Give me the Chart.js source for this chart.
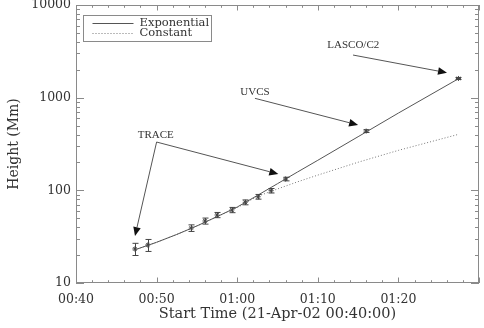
<!DOCTYPE html>
<html>
<head>
<meta charset="utf-8">
<script src="https://cdn.jsdelivr.net/npm/chart.js@4.4.0/dist/chart.umd.min.js"></script>
<style>
    html, body { margin: 0; padding: 0; background: #fff; }
</style>
</head>
<body>
<canvas id="heightChart" width="484" height="328"></canvas>
<script>
// --- data (time = minutes after 00:40, height in Mm) ---
const obsTime = [7.3, 8.9, 14.3, 16.0, 17.5, 19.35, 21.0, 22.6, 24.2, 26.0, 36.0, 47.45];
const obsHeight = [23.3, 25.7, 39.2, 46.7, 54.2, 61.4, 74.3, 85.3, 99.1, 132.5, 436, 1611];
const obsError = [3.5, 3.8, 3.2, 3.5, 3.5, 4, 4.5, 5, 5.5, 6, 15, 40];

const fitTime = [7.3, 10, 12.5, 15, 17.5, 20, 22.5, 25, 27.5, 30, 35, 40, 47.5];
const expHeight = [22.8, 27.5, 33.4, 41.3, 52, 66, 88, 118, 158, 211, 379, 682, 1610];
const constHeight = [22.8, 27.5, 33.4, 41.3, 52, 65, 86, 103.5, 123.6, 146, 201, 270, 403];

const xRange = [0, 50];
const xTickMinutes = [0, 10, 20, 30, 40];
const yRange = [10, 10000];
const yTickValues = [10, 100, 1000, 10000];

// callouts: text position and arrows, in data units
const callouts = [
    { text: 'TRACE', at: [9.9, 395], arrows: [[[10.0, 332], [7.32, 32.1]], [[10.0, 332], [25.1, 150]]] },
    { text: 'UVCS', at: [22.2, 1159], arrows: [[[22.2, 984], [35.0, 507]]] },
    { text: 'LASCO/C2', at: [34.4, 3700], arrows: [[[34.37, 2884], [46.03, 1858]]] }
];

const ink = '#333';
const lineInk = '#555';
const axisInk = '#8a8a8a';
const serif = 'DejaVu Serif';

const toPoints = (xs, ys) => xs.map((x, i) => ({ x: x, y: ys[i] }));
const pad2 = n => String(n).padStart(2, '0');
const clockLabel = min => {
    const t = 40 + min;
    return pad2(Math.floor(t / 60)) + ':' + pad2(t % 60);
};

// frame + inward ticks on all four sides
const frameTicks = {
    id: 'frameTicks',
    beforeDatasetsDraw(chart) {
        const { ctx, chartArea: a, scales: { x, y } } = chart;
        ctx.save();
        ctx.strokeStyle = axisInk;
        ctx.lineWidth = 1;
        ctx.strokeRect(a.left + 0.5, a.top + 0.5, a.right - a.left - 1, a.bottom - a.top - 1);
        ctx.beginPath();
        for (let m = xRange[0]; m <= xRange[1]; m += 2) {
            const px = Math.round(x.getPixelForValue(m)) + 0.5;
            const len = m % 10 === 0 ? 5.5 : 2.8;
            ctx.moveTo(px, a.bottom); ctx.lineTo(px, a.bottom - len);
            ctx.moveTo(px, a.top); ctx.lineTo(px, a.top + len);
        }
        for (let d = yRange[0]; d <= yRange[1]; d *= 10) {
            for (let k = 1; k <= 9; k++) {
                const v = d * k;
                if (v > yRange[1]) break;
                const py = Math.round(y.getPixelForValue(v)) + 0.5;
                const len = k === 1 ? 8 : 4;
                ctx.moveTo(a.left, py); ctx.lineTo(a.left + len, py);
                ctx.moveTo(a.right, py); ctx.lineTo(a.right - len, py);
            }
        }
        ctx.stroke();
        ctx.restore();
    }
};

// vertical error bars with caps
const errorBars = {
    id: 'errorBars',
    afterDatasetsDraw(chart) {
        const { ctx, scales: { x, y } } = chart;
        ctx.save();
        ctx.strokeStyle = '#444';
        ctx.lineWidth = 1;
        ctx.beginPath();
        obsTime.forEach((t, i) => {
            const px = Math.round(x.getPixelForValue(t)) + 0.5;
            const hi = y.getPixelForValue(obsHeight[i] + obsError[i]);
            const lo = y.getPixelForValue(obsHeight[i] - obsError[i]);
            ctx.moveTo(px, hi); ctx.lineTo(px, lo);
            ctx.moveTo(px - 3, hi); ctx.lineTo(px + 3, hi);
            ctx.moveTo(px - 3, lo); ctx.lineTo(px + 3, lo);
        });
        ctx.stroke();
        ctx.restore();
    }
};

// instrument labels with arrows
const calloutPlugin = {
    id: 'callouts',
    afterDatasetsDraw(chart) {
        const { ctx, scales: { x, y } } = chart;
        const P = p => [x.getPixelForValue(p[0]), y.getPixelForValue(p[1])];
        ctx.save();
        ctx.strokeStyle = lineInk;
        ctx.lineWidth = 1;
        ctx.font = '11px "Liberation Serif"';
        ctx.textAlign = 'center';
        ctx.textBaseline = 'middle';
        callouts.forEach(c => {
            const [tx, ty] = P(c.at);
            ctx.fillStyle = ink;
            ctx.fillText(c.text, tx, ty);
            c.arrows.forEach(([from, to]) => {
                const [x0, y0] = P(from);
                const [x1, y1] = P(to);
                const ang = Math.atan2(y1 - y0, x1 - x0);
                const L = 9, W = 3.8;
                const bx = x1 - L * Math.cos(ang), by = y1 - L * Math.sin(ang);
                ctx.beginPath();
                ctx.moveTo(x0, y0); ctx.lineTo(bx, by);
                ctx.stroke();
                ctx.beginPath();
                ctx.moveTo(x1, y1);
                ctx.lineTo(bx + W * Math.sin(ang), by - W * Math.cos(ang));
                ctx.lineTo(bx - W * Math.sin(ang), by + W * Math.cos(ang));
                ctx.closePath();
                ctx.fillStyle = '#111';
                ctx.fill();
            });
        });
        ctx.restore();
    }
};

// boxed legend in upper left
const boxLegend = {
    id: 'boxLegend',
    afterDraw(chart) {
        const { ctx, chartArea: a } = chart;
        const bx = a.left + 6.5, by = a.top + 10;
        ctx.save();
        ctx.strokeStyle = axisInk;
        ctx.lineWidth = 1;
        ctx.strokeRect(Math.round(bx) + 0.5, Math.round(by) + 0.5, 128, 26);
        chart.data.datasets.slice(0, 2).forEach((ds, i) => {
            const ly = Math.round(by + 7.5 + i * 10) + 0.5;
            ctx.strokeStyle = ds.borderColor;
            ctx.setLineDash(ds.borderDash || []);
            ctx.beginPath();
            ctx.moveTo(bx + 10, ly); ctx.lineTo(bx + 51, ly);
            ctx.stroke();
            ctx.setLineDash([]);
            ctx.fillStyle = ink;
            ctx.font = '11.5px "' + serif + '"';
            ctx.textBaseline = 'middle';
            ctx.fillText(ds.label, bx + 57, ly);
        });
        ctx.restore();
    }
};

new Chart(document.getElementById('heightChart').getContext('2d'), {
    data: {
        datasets: [
            {
                type: 'line',
                label: 'Exponential',
                data: toPoints(fitTime, expHeight),
                borderColor: lineInk,
                borderWidth: 1,
                pointRadius: 0,
                tension: 0
            },
            {
                type: 'line',
                label: 'Constant',
                data: toPoints(fitTime, constHeight),
                borderColor: '#777',
                borderWidth: 1,
                borderDash: [1, 2],
                pointRadius: 0,
                tension: 0
            },
            {
                type: 'scatter',
                label: 'Observed',
                data: toPoints(obsTime, obsHeight),
                pointStyle: 'star',
                pointRadius: 2.5,
                borderColor: '#444',
                backgroundColor: '#444',
                borderWidth: 1
            }
        ]
    },
    options: {
        responsive: false,
        animation: false,
        layout: { padding: { top: 5, right: 5, left: 0, bottom: 0 } },
        plugins: {
            legend: { display: false },
            tooltip: { enabled: false }
        },
        scales: {
            x: {
                type: 'linear',
                min: xRange[0],
                max: xRange[1],
                afterBuildTicks: s => { s.ticks = xTickMinutes.map(v => ({ value: v })); },
                afterFit: s => { s.height = 45; s.paddingLeft = 0; s.paddingRight = 0; },
                grid: { display: false, drawTicks: false },
                border: { display: false },
                ticks: {
                    callback: v => clockLabel(v),
                    font: { family: serif, size: 12.5 },
                    color: ink,
                    padding: 9.5,
                    maxRotation: 0,
                    autoSkip: false
                },
                title: {
                    display: true,
                    text: 'Start Time (21-Apr-02 00:40:00)',
                    font: { family: serif, size: 14.5 },
                    color: ink,
                    padding: { top: 0, bottom: 5 }
                }
            },
            y: {
                type: 'logarithmic',
                min: yRange[0],
                max: yRange[1],
                afterBuildTicks: s => { s.ticks = yTickValues.map(v => ({ value: v })); },
                afterFit: s => { s.width = 76; s.paddingTop = 0; s.paddingBottom = 0; },
                grid: { display: false, drawTicks: false },
                border: { display: false },
                ticks: {
                    callback: v => String(v),
                    font: { family: serif, size: 12.5 },
                    color: ink,
                    padding: 5,
                    autoSkip: false
                },
                title: {
                    display: true,
                    text: 'Height (Mm)',
                    font: { family: serif, size: 14 },
                    color: ink,
                    padding: { top: 6, bottom: 0 }
                }
            }
        }
    },
    plugins: [frameTicks, errorBars, calloutPlugin, boxLegend]
});
</script>
</body>
</html>
